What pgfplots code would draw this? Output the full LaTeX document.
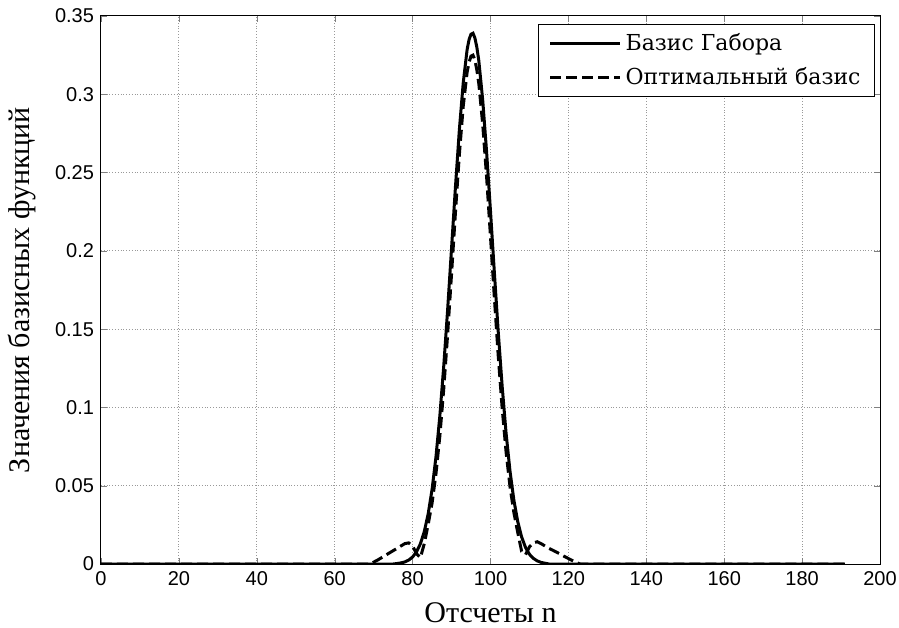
\documentclass[border=0pt]{standalone}
\usepackage{fontspec}
\setmainfont{Liberation Serif}
\newfontfamily\sansf{Liberation Sans}
\newfontfamily\legf{DejaVu Serif}
\usepackage{pgfplots}
\pgfplotsset{compat=1.18}

% Gabor basis function (solid)
\pgfplotstableread{
n y
0 0
75 0
76 0.0003
77 0.0007
78 0.0013
79 0.0025
80 0.0045
81 0.0077
82 0.0129
83 0.0207
84 0.0320
85 0.0477
86 0.0685
87 0.0948
88 0.1266
89 0.1627
90 0.2017
91 0.2408
92 0.2772
93 0.3074
94 0.3286
94.5 0.3350
95 0.3384
95.5 0.3390
96 0.3359
96.5 0.3300
97 0.3214
98 0.2963
99 0.2632
100 0.2253
101 0.1859
102 0.1478
103 0.1133
104 0.0836
105 0.0595
106 0.0408
107 0.0270
108 0.0172
109 0.0105
110 0.0062
111 0.0036
112 0.0020
113 0.0010
114 0.0005
115 0
191 0
}\gabor

% optimal basis function (dashed)
\pgfplotstableread{
n y
0 0
69 0
70 0.0012
71 0.0025
72 0.0040
73 0.0055
74 0.0070
75 0.0085
76 0.0100
77 0.0115
78 0.0130
79 0.0135
80 0.0115
81 0.0065
82 0.0040
83 0.0130
84 0.0253
85 0.0389
86 0.0576
87 0.0819
88 0.1120
89 0.1469
90 0.1853
91 0.2245
92 0.2614
93 0.2924
94 0.3142
94.5 0.3205
95 0.3244
95.5 0.3250
96 0.3218
96.5 0.3155
97 0.3067
98 0.2809
99 0.2472
100 0.2089
101 0.1697
102 0.1324
103 0.0993
104 0.0715
105 0.0495
106 0.0329
107 0.0200
108 0.0080
109 0.0060
110 0.0110
111 0.0135
112 0.0142
113 0.0130
114 0.0115
115 0.0100
116 0.0088
117 0.0075
118 0.0062
119 0.0048
120 0.0035
121 0.0022
122 0.0010
123 0
191 0
}\optim

\begin{document}
\begin{tikzpicture}
\useasboundingbox (-50.5pt,-31.5pt) rectangle (399pt,282pt);
\begin{axis}[
  at={(0,0)}, anchor=south west,
  scale only axis,
  width=389.5pt, height=274pt,
  xmin=0, xmax=200, ymin=0, ymax=0.35,
  xtick={0,20,...,200},
  ytick={0,0.05,0.1,0.15,0.2,0.25,0.3,0.35},
  scaled y ticks=false,
  yticklabel style={/pgf/number format/fixed, /pgf/number format/precision=2},
  /pgf/number format/assume math mode=true,
  tick label style={font=\sansf\fontsize{10}{12}\selectfont, black},
  tick align=inside,
  major tick length=3pt,
  axis line style={line width=0.5pt},
  grid=major,
  major grid style={densely dotted, gray!80, line width=0.5pt},
  xlabel={Отсчеты n},
  ylabel={Значения базисных функций},
  label style={font=\fontsize{15}{18}\selectfont},
  xlabel style={at={(axis description cs:0.5,-0.088)}, anchor=center},
  ylabel style={at={(axis description cs:-0.101,0.5)}, anchor=center, rotate=0},
  legend style={at={(1,1)}, anchor=north east, xshift=-2.5pt, yshift=-4pt,
    font=\legf\fontsize{11}{13}\selectfont, draw=black, line width=0.5pt,
    inner xsep=5pt, inner ysep=2.5pt, row sep=3pt, cells={anchor=west}},
  legend image code/.code={\draw[#1] (0pt,0pt) -- (35pt,0pt);},
]
\addplot[black, line width=1.5pt] table[x=n, y=y] {\gabor};
\addlegendentry{Базис Габора}
\addplot[black, line width=1.5pt, dash pattern=on 5.5pt off 2.5pt] table[x=n, y=y] {\optim};
\addlegendentry{Оптимальный базис}
\end{axis}
\end{tikzpicture}
\end{document}
